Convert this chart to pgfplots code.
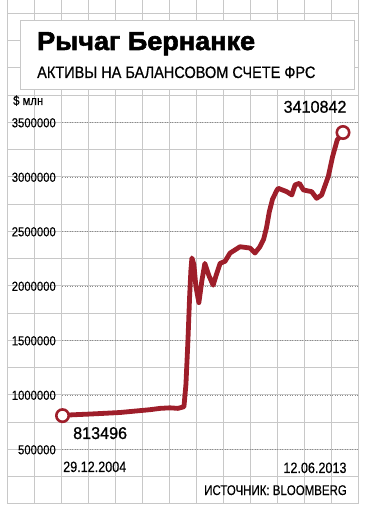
\documentclass[border=0pt]{standalone}
\usepackage{fontspec}
\setmainfont{Liberation Sans}
\newfontfamily\titlefont[FakeStretch=1.04,FakeBold=2.2]{Liberation Sans}
\newfontfamily\subfont[FakeStretch=0.88,FakeBold=0.6]{Liberation Sans}
\newfontfamily\tickfont[FakeStretch=0.87,FakeBold=0.3]{Liberation Sans}
\newfontfamily\datefont[FakeStretch=0.84,FakeBold=0.3]{Liberation Sans}
\newfontfamily\srcfont[FakeStretch=0.82,FakeBold=0.3]{Liberation Sans}
\newfontfamily\valfont[FakeStretch=0.95,FakeBold=0.9]{Liberation Sans}
\usepackage{pgfplots}
\pgfplotsset{compat=1.18}
\definecolor{gridc}{RGB}{200,200,200}
\definecolor{dotc}{RGB}{140,140,140}
\definecolor{fedred}{RGB}{158,30,42}
\pgfplotstableread{
year value
2004.99 813496
2005.10 818000
2005.37 822000
2005.82 828000
2006.27 835000
2006.72 842000
2007.17 855000
2007.63 868000
2007.93 880000
2008.23 885000
2008.47 880000
2008.65 895000
2008.71 1100000
2008.77 1500000
2008.82 1900000
2008.86 2150000
2008.89 2260000
2008.95 2200000
2009.01 2000000
2009.10 1850000
2009.19 2050000
2009.28 2210000
2009.40 2100000
2009.53 2010000
2009.62 2100000
2009.74 2210000
2009.89 2230000
2010.04 2305000
2010.34 2363000
2010.64 2351000
2010.79 2305000
2010.94 2363000
2011.05 2430000
2011.14 2540000
2011.22 2680000
2011.32 2800000
2011.45 2880000
2011.49 2899000
2011.75 2868000
2011.90 2838000
2012.00 2930000
2012.13 2945000
2012.25 2884000
2012.50 2868000
2012.65 2807000
2012.80 2838000
2013.00 3007000
2013.13 3190000
2013.27 3343000
2013.444 3410842
}\fedtable
\begin{document}
\begin{tikzpicture}
\useasboundingbox (0,0) rectangle (369pt,511pt);
% background grid
\foreach \k in {0,...,13} \draw[gridc, line width=1pt] ({(7.3+27*\k)*1pt},7pt) -- ({(7.3+27*\k)*1pt},511pt);
\foreach \k in {0,...,18} \draw[gridc, line width=1pt] (7.3pt,{(7+27.25*\k)*1pt}) -- (358.3pt,{(7+27.25*\k)*1pt});
% title box
\draw[gridc, line width=1pt, fill=white] (20.7pt,421.7pt) rectangle (354pt,490.3pt);
% dotted tick lines
\foreach \k in {0,...,6} \draw[dotc, line width=1pt, dash pattern=on 1pt off 1.5pt] (62pt,{(61.2+54.5*\k)*1pt}) -- (358pt,{(61.2+54.5*\k)*1pt});
\begin{axis}[
  at={(0,0)}, anchor=south west,
  scale only axis, width=369pt, height=511pt,
  xmin=2003.106, xmax=2014.2275, ymin=-61467, ymax=4626600,
  axis line style={draw=none},
  major tick length=0pt,
  xtick=\empty,
  scaled y ticks=false,
  ytick={500000,1000000,1500000,2000000,2500000,3000000,3500000},
  yticklabels={500000,1000000,1500000,2000000,2500000,3000000,3500000},
  yticklabel style={font=\tickfont\fontsize{13}{13}\selectfont, anchor=east, xshift=56pt, inner sep=0pt},
  clip=false,
]
\addplot[line width=4.8pt, color=fedred, line join=round, line cap=round] table[x=year, y=value] {\fedtable};
\addplot[only marks, mark=*, mark size=6.2pt, mark options={draw=fedred, fill=white, line width=2.6pt}] coordinates {(2004.99,813496) (2013.444,3410842)};
\end{axis}
% texts
\node[anchor=base west, inner sep=0pt] at (37pt,461pt) {\titlefont\bfseries\fontsize{26}{26}\selectfont Рычаг Бернанке};
\node[anchor=base west, inner sep=0pt] at (37pt,433pt) {\subfont\fontsize{16.5}{16.5}\selectfont АКТИВЫ НА БАЛАНСОВОМ СЧЕТЕ ФРС};
\node[anchor=base west, inner sep=0pt] at (13pt,406pt) {\tickfont\fontsize{13}{13}\selectfont \$ млн};
\node[anchor=base west, inner sep=0pt] at (73pt,72pt) {\valfont\fontsize{17}{17}\selectfont 813496};
\node[anchor=base east, inner sep=0pt] at (346.7pt,398.3pt) {\valfont\fontsize{17}{17}\selectfont 3410842};
\node[anchor=base west, inner sep=0pt] at (63pt,39pt) {\datefont\fontsize{15}{15}\selectfont 29.12.2004};
\node[anchor=base east, inner sep=0pt] at (346.7pt,38pt) {\datefont\fontsize{15}{15}\selectfont 12.06.2013};
\node[anchor=base east, inner sep=0pt] at (347pt,16pt) {\srcfont\fontsize{14}{14}\selectfont ИСТОЧНИК: BLOOMBERG};
\end{tikzpicture}
\end{document}
